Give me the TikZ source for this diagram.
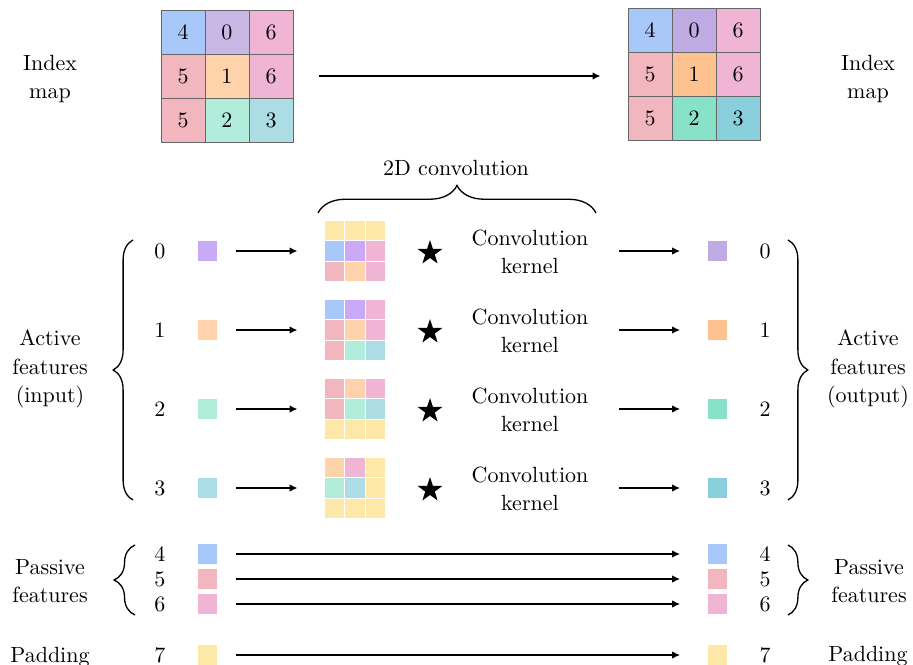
\documentclass[tikz,border=0pt]{standalone}
\usetikzlibrary{arrows.meta,decorations.pathreplacing,shapes.geometric,fit}
\definecolor{cB}{HTML}{A8C8FA}
\definecolor{cR}{HTML}{F2B6BE}
\definecolor{cK}{HTML}{F0B4D4}
\definecolor{cY}{HTML}{FEE8A8}
\definecolor{cP}{HTML}{CAAAF8}
\definecolor{cPm}{HTML}{C9B8E6}
\definecolor{cO}{HTML}{FED2AA}
\definecolor{cG}{HTML}{B2ECDA}
\definecolor{cC}{HTML}{ADDDE4}
\definecolor{dP}{HTML}{C0AAE4}
\definecolor{dO}{HTML}{FEC290}
\definecolor{dG}{HTML}{88E2C8}
\definecolor{dC}{HTML}{8AD0DC}
\begin{document}
\begin{tikzpicture}[x=0.4545pt,y=-0.4545pt,
  font=\fontsize{10}{13}\selectfont,
  sq/.style={minimum size=8.64pt,inner sep=0pt,outer sep=0pt},
  mc/.style={draw=black!60,line width=0.4pt,minimum size=20pt,inner sep=0pt,outer sep=0pt},
  lbl/.style={align=center},
  arr/.style={line width=0.6pt,-{Latex[length=3.6pt,width=3.4pt]}},
  brc/.style={line width=0.6pt,decorate}]
\useasboundingbox (0,0) rectangle (913,665);

% index maps
\foreach \n/\c [count=\i from 0] in {4/cB,0/cPm,6/cK,5/cR,1/cO,6/cK,5/cR,2/cG,3/cC}{
  \pgfmathsetmacro\px{227+(mod(\i,3)-1)*44}
  \pgfmathsetmacro\py{76+(floor(\i/3)-1)*44}
  \node[mc,fill=\c] (mL-\i) at (\px,\py) {\n};
}
\foreach \n/\c [count=\i from 0] in {4/cB,0/dP,6/cK,5/cR,1/dO,6/cK,5/cR,2/dG,3/dC}{
  \pgfmathsetmacro\px{694+(mod(\i,3)-1)*44}
  \pgfmathsetmacro\py{74+(floor(\i/3)-1)*44}
  \node[mc,fill=\c] (mR-\i) at (\px,\py) {\n};
}
\node[fit=(mL-0)(mL-8),inner sep=0pt] (mapL) {};
\node[fit=(mR-0)(mR-8),inner sep=0pt] (mapR) {};
\draw[arr,shorten <=11.4pt,shorten >=12.3pt] (mapL.east) -- (mapL.east -| mapR.west);

\node[lbl] (idxL) at (50,79) {Index\\map};
\node[lbl] (idxR) at (868,79) {Index\\map};

% 2D convolution brace
\node (conv2d) at (456,168) {2D convolution};
\draw[brc,decoration={brace,amplitude=12.5pt}] (318,213) -- (596,213);

% patches
\foreach \r/\cy/\cols in {0/251/{cY,cY,cY,cB,cP,cK,cR,cO,cK},1/330/{cB,cP,cK,cR,cO,cK,cR,cG,cC},2/409/{cR,cO,cK,cR,cG,cC,cY,cY,cY},3/488/{cO,cK,cY,cG,cC,cY,cY,cY,cY}}{
  \foreach \c [count=\i from 0] in \cols {
    \pgfmathsetmacro\px{355+(mod(\i,3)-1)*20.5}
    \pgfmathsetmacro\py{\cy+(floor(\i/3)-1)*20.5}
    \node[sq,fill=\c] (p\r-\i) at (\px,\py) {};
  }
  \node[fit=(p\r-0)(p\r-8),inner sep=0pt] (patch\r) {};
  \node[star,star points=5,star point ratio=2.6,fill=black,minimum size=11.8pt,inner sep=0pt] (st\r) at (430,\cy+2) {};
  \node[lbl] (k\r) at (530,\cy+1) {Convolution\\kernel};
}

% active features
\foreach \r/\cy/\ci/\co in {0/251/cP/dP,1/330/cO/dO,2/409/cG/dG,3/488/cC/dC}{
  \node (nL\r) at (160,\cy) {\r};
  \node[sq,fill=\ci] (in\r) at (207.5,\cy) {};
  \node[sq,fill=\co] (out\r) at (717.5,\cy) {};
  \node (nR\r) at (765,\cy) {\r};
  \draw[arr,shorten <=8.6pt,shorten >=12.3pt] (in\r) -- (patch\r);
  \draw[arr,shorten <=10.5pt,shorten >=12.7pt] (k\r.east |- out\r.west) -- (out\r.west);
}
\draw[brc,decoration={brace,amplitude=9pt}] (133,500) -- (133,240);
\draw[brc,decoration={brace,amplitude=9pt}] (788,240) -- (788,500);
\node[lbl] (actL) at (50,369) {Active\\features\\(input)};
\node[lbl] (actR) at (868,369) {Active\\features\\(output)};

% passive features
\foreach \r/\cy/\c in {4/554/cB,5/579/cR,6/604/cK,7/655/cY}{
  \node (nL\r) at (160,\cy) {\r};
  \node[sq,fill=\c] (in\r) at (207.5,\cy) {};
  \node[sq,fill=\c] (out\r) at (717.5,\cy) {};
  \node (nR\r) at (765,\cy) {\r};
  \draw[arr,shorten <=8.6pt,shorten >=12.7pt] (in\r) -- (out\r);
}
\draw[brc,decoration={brace,amplitude=9.5pt}] (135,615) -- (135,545);
\draw[brc,decoration={brace,amplitude=9pt}] (788,545) -- (788,615);
\node[lbl] (pasL) at (50,581) {Passive\\features};
\node[lbl] (pasR) at (869,581) {Passive\\features};
\node (padL) at (50,657) {Padding};
\node (padR) at (868,656) {Padding};
\end{tikzpicture}
\end{document}
